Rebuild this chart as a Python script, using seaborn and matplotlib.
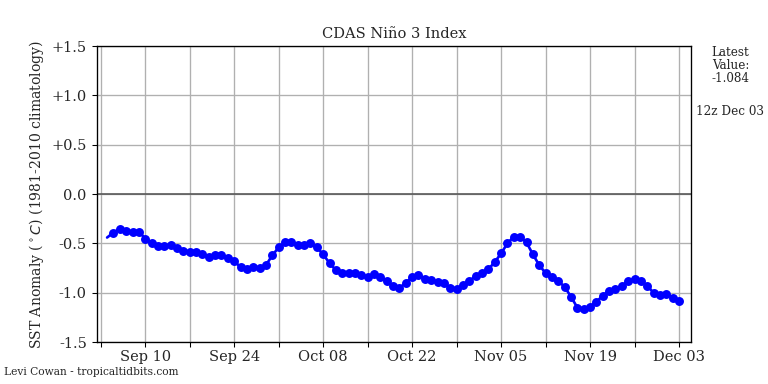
import numpy as np
import pandas as pd
import matplotlib
matplotlib.use('Agg')
import matplotlib.pyplot as plt
import matplotlib.dates as mdates
import seaborn as sns

# daily Nino 3 SST anomaly, Sep 04 - Dec 03
start_date = '2018-09-04'
anom = [-0.44, -0.39, -0.35, -0.37, -0.38, -0.38, -0.45, -0.50, -0.53, -0.53,
        -0.52, -0.55, -0.58, -0.59, -0.59, -0.61, -0.64, -0.62, -0.62, -0.65,
        -0.68, -0.74, -0.76, -0.74, -0.75, -0.72, -0.62,
        -0.54, -0.49, -0.49, -0.52, -0.52, -0.50, -0.54, -0.61, -0.70, -0.77,
        -0.80, -0.80, -0.80, -0.82, -0.84, -0.81, -0.84, -0.88, -0.93, -0.95,
        -0.90, -0.84, -0.82, -0.86, -0.87, -0.89, -0.90, -0.95, -0.96, -0.92,
        -0.88,
        -0.83, -0.80, -0.76, -0.69, -0.60, -0.50, -0.43, -0.43, -0.49, -0.61,
        -0.72, -0.80, -0.84, -0.88, -0.94, -1.04, -1.15, -1.16, -1.14, -1.09,
        -1.03, -0.98, -0.96, -0.93, -0.88, -0.86, -0.88, -0.93, -1.00, -1.02,
        -1.01, -1.05, -1.084]
yticks = [-1.5, -1.0, -0.5, 0.0, 0.5, 1.0, 1.5]
ytick_labels = ['-1.5', '-1.0', '-0.5', '0.0', '+0.5', '+1.0', '+1.5']

df = pd.DataFrame({'date': pd.date_range(start_date, periods=len(anom), freq='D'),
                   'anom': anom})

sns.set_style('ticks')
plt.rcParams['font.family'] = ['DejaVu Serif']

fig = plt.figure(figsize=(8, 4), dpi=96)
ax = fig.add_axes([0.126, 0.109, 0.774, 0.771])

ax.axhline(0, color='#555555', lw=1.2, zorder=1)
sns.lineplot(data=df, x='date', y='anom', color='blue', lw=2, ax=ax, zorder=3)
sns.scatterplot(data=df.iloc[1:], x='date', y='anom', color='blue', s=45,
                edgecolor='blue', linewidth=0, ax=ax, zorder=4)

ax.set_ylim(-1.5, 1.5)
ax.set_yticks(yticks)
ax.set_yticklabels(ytick_labels, fontsize=11)

weeks = pd.date_range('2018-09-03', '2018-12-03', freq='7D')
ax.set_xticks(weeks)
ax.set_xticklabels([d.strftime('%b %d') if i % 2 == 1 else '' for i, d in enumerate(weeks)],
                   fontsize=11)
ax.set_xlim(pd.Timestamp('2018-09-02 09:00'), pd.Timestamp('2018-12-04 22:00'))

ax.grid(True, color='#b0b0b0', lw=1)
for s in ax.spines.values():
    s.set_color('black')
    s.set_linewidth(1)
ax.tick_params(direction='out', length=4, color='black')
ax.tick_params(axis='x', pad=2)

ax.set_xlabel('')
ax.set_ylabel(r'SST Anomaly ($^\circ C$) (1981-2010 climatology)', fontsize=10.5)
ax.set_title('CDAS Niño 3 Index', fontsize=11)

fig.text(0.951, 0.88, 'Latest\nValue:\n-1.084', ha='center', va='top', fontsize=9,
         linespacing=1.0)
fig.text(0.951, 0.71, '12z Dec 03', ha='center', va='center', fontsize=9)
fig.text(0.005, 0.030, 'Levi Cowan - tropicaltidbits.com', ha='left', va='center',
         fontsize=8)

fig.savefig('out.png', dpi=96)
